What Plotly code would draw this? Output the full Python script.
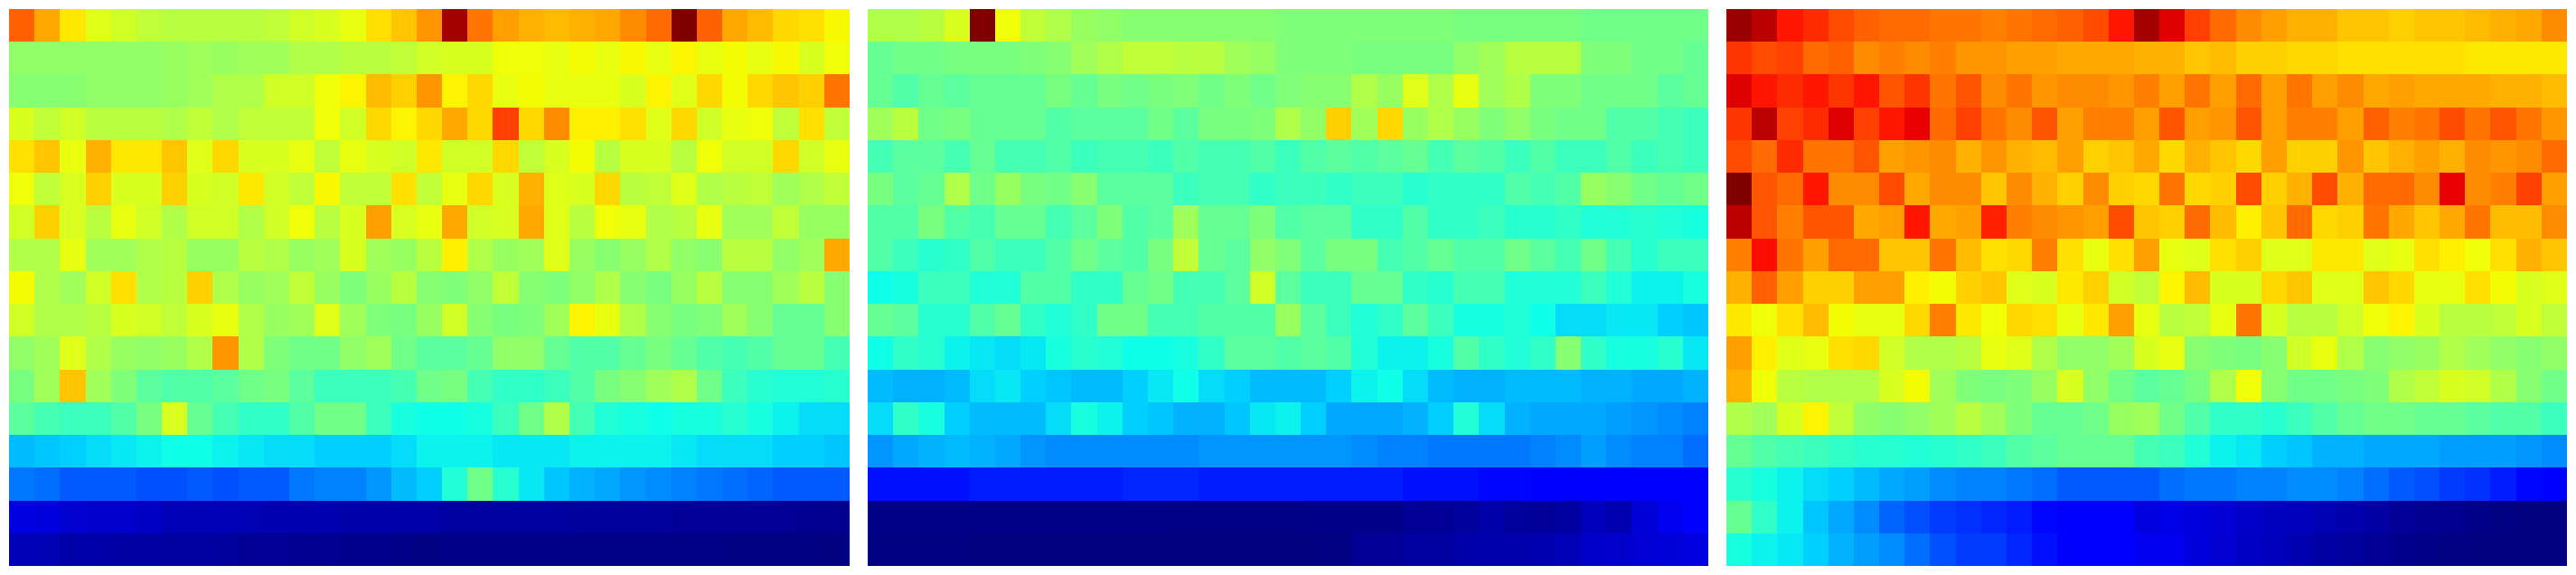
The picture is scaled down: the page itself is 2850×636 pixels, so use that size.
import plotly.graph_objects as go

# Cell values, top row first (33 columns, 17 rows)
panel_a = [
[80,73,66,59,57,56,55,55,55,55,56,57,58,60,67,70,75, 97,78,74,72,71,72,73,76,79,100,80,73,71,68,67,63],
[51,51,51,51,51,51,52,53,52,53,53,54,54,55,55,56,57, 58,58,61,61,60,62,60,63,60,64,60,62,60,63,58,61],
[50,50,50,51,51,51,52,53,54,54,57,57,61,64,71,69,75, 64,68,60,62,60,60,60,58,64,59,68,62,68,70,69,78],
[58,56,57,55,55,55,54,56,54,56,56,56,61,57,68,64,68, 73,68,83,68,76,65,65,67,59,68,57,60,61,56,67,56],
[67,70,60,72,66,66,70,59,68,58,58,60,56,60,58,57,66, 57,57,68,56,58,62,55,58,58,55,61,57,57,68,57,60],
[61,56,58,69,58,58,69,58,57,66,57,56,63,56,56,67,56, 60,68,58,72,59,58,68,55,56,59,54,55,56,53,54,56],
[57,69,58,55,60,57,54,57,57,54,57,61,55,58,74,58,60, 73,57,58,73,59,55,61,60,54,55,60,53,53,56,52,52],
[54,54,60,53,53,54,55,52,52,55,54,52,53,58,53,52,55, 65,54,52,53,59,52,50,52,54,51,50,55,55,51,53,73],
[62,54,53,57,67,54,55,69,54,52,53,56,52,49,52,55,50, 49,51,56,50,49,51,54,50,48,52,55,50,50,53,55,50],
[57,54,54,55,58,57,56,58,60,54,52,53,59,53,49,48,52, 57,50,48,49,53,64,60,54,50,48,49,53,50,46,46,50],
[51,53,59,54,52,51,52,54,75,54,49,47,47,51,53,47,45, 45,46,51,51,46,44,44,46,48,46,44,43,44,46,46,43],
[48,53,70,53,49,45,44,44,45,47,48,45,42,42,42,43,47, 48,43,41,41,42,44,48,50,53,54,47,42,40,39,39,40],
[45,43,42,42,44,48,58,46,43,41,41,44,47,47,42,38,37, 37,38,42,47,54,43,39,38,37,38,38,40,38,36,34,34],
[31,32,33,34,35,36,37,37,36,35,34,34,33,33,33,34,36, 36,36,35,35,35,36,36,36,36,35,34,34,34,33,33,32],
[24,23,21,21,21,20,20,21,20,21,21,24,25,25,27,31,33, 39,47,40,35,32,30,29,27,26,25,24,23,22,21,21,21],
[8.3,8,6.9,6.6,6.6,5.9,4.8,4.8,4.8,4.5,4.2,4.2,4.2,3.5,3.5,3.5,3.5, 2.8,2.8,2.8,2.6,2.6,2.4,2.4,2.4,2.4,2.1,2.1,1.9,1.7,1.7,1.4,1.2],
[4.8,4.5,3.5,3.5,3.1,3.1,2.8,2.8,2.4,1.7,1.7,1.4,1.4,1,1,0.7,0.3, 0.8,0.8,0.8,0.7,0.7,0.6,0.6,0.6,0.6,0.5,0.5,0.3,0.2,0.2,0.2,0.1],
]

panel_b = [
[54,54,55,58,100,61,56,54,52,51,50,50,50,50,50,50,49, 49,49,49,49,49,49,48,48,48,48,48,47,47,47,47,47],
[46,47,47,48,48,48,49,50,53,54,56,56,55,55,53,52,49, 49,49,48,48,48,48,51,53,55,55,55,49,49,47,47,46],
[46,44,46,45,46,46,46,48,46,48,47,48,49,47,49,47,49, 50,50,54,52,59,54,60,53,54,49,49,47,47,47,45,46],
[53,55,47,48,46,46,46,44,45,45,45,47,45,48,48,49,54, 51,69,53,68,52,54,52,49,51,48,47,47,44,44,43,42],
[43,45,45,43,46,43,43,44,42,43,43,42,44,43,43,44,42, 44,45,44,45,46,43,45,44,42,44,42,42,44,42,43,42],
[48,45,46,54,47,52,48,47,50,45,45,45,42,43,43,41,42, 42,41,42,42,40,41,41,41,44,43,44,52,50,47,46,47],
[44,44,48,44,43,46,46,43,45,49,44,45,53,46,46,49,44, 45,45,41,41,44,41,41,42,40,40,41,39,39,40,39,38],
[44,42,40,41,44,42,42,44,47,45,44,48,56,46,45,51,49, 45,48,48,43,44,46,44,44,47,45,43,47,43,40,42,42],
[37,38,42,42,39,39,44,44,41,41,46,47,43,43,45,57,45, 42,42,46,46,41,40,43,43,39,39,39,42,39,36,36,38],
[46,45,40,40,44,46,41,39,41,47,47,43,43,44,44,44,52, 45,42,39,41,45,42,38,38,39,37,34,34,35,35,33,32],
[37,41,40,36,35,34,35,38,40,39,37,37,38,41,45,45,44, 45,44,39,36,36,38,44,41,39,41,50,41,38,38,40,35],
[31,30,30,31,34,35,33,32,31,31,33,35,37,34,33,31,31, 31,33,36,37,34,31,30,30,31,31,31,30,30,29,29,30],
[34,41,38,33,31,31,31,34,38,36,33,32,30,30,32,35,36, 33,29,29,29,30,33,39,34,30,29,29,29,28,27,26,25],
[27,29,30,31,30,29,27,26,26,26,26,26,26,27,27,27,27, 27,27,26,25,25,24,24,24,24,25,26,28,26,25,25,23],
[14,14,14,14,15,15,15,15,15,15,16,16,16,15,15,15,15, 15,15,15,15,14,14,14,13,13,12,12,12,12,12,12,12],
[0.6,0.6,0.6,0.6,0.6,0.6,0.5,0.5,0.5,0.5,0.5,0.5,0.4,0.4,0.4,0.4,0.4, 0.8,0.8,0.8,0.8,1.7,2.1,2.4,3.5,2.4,2.1,2.8,5.2,4.2,7.6,9.7,11],
[0.2,0.2,0.2,0.2,0.1,0.1,0.1,0.1,0.1,0,0,0,0,0,0,0,0, 0,0.3,1.7,2.1,2.8,2.8,3.5,3.8,3.8,4.2,4.8,6.2,6.6,7.3,7.6,8.3],
]

panel_c = [
[98,95,87,85,82,80,79,79,78,78,77,78,79,80,82,87,97, 92,83,79,76,74,72,72,70,70,69,70,70,71,72,73,76],
[84,82,83,79,80,76,77,76,77,75,75,74,74,73,73,73,72, 72,70,71,69,69,68,68,67,67,67,67,67,66,66,66,66],
[92,87,85,87,84,87,81,84,78,81,76,78,75,76,76,75,77, 74,78,74,79,74,78,74,76,73,74,73,73,73,72,72,71],
[84,95,83,85,92,83,87,91,79,83,78,76,81,74,77,77,74, 81,74,75,81,74,77,77,74,80,77,78,82,78,81,78,75],
[82,79,85,78,78,81,74,75,76,72,75,72,71,74,69,70,73, 68,72,70,68,74,69,69,75,70,72,74,72,76,75,76,79],
[100,81,79,87,76,76,82,73,76,76,70,76,72,69,76,69,68, 78,68,69,82,69,72,82,72,79,79,76,91,76,77,83,74],
[95,81,77,81,81,73,74,87,73,74,86,77,76,75,74,82,70, 69,79,71,65,70,79,68,69,78,73,70,73,78,71,71,76],
[77,88,78,74,79,79,70,70,78,71,67,68,77,67,60,67,74, 60,59,67,69,59,59,66,66,59,60,67,65,61,67,72,70],
[72,80,74,69,69,74,74,65,62,69,70,59,58,66,69,57,56, 64,71,58,58,68,70,59,59,70,68,60,60,67,62,58,59],
[66,61,67,71,62,60,60,68,77,66,61,68,67,60,66,74,60, 55,56,60,78,58,55,55,57,61,64,58,55,55,56,58,56],
[74,65,59,60,67,68,57,54,54,55,60,59,54,51,51,53,58, 60,50,49,48,50,57,60,54,50,51,52,54,53,51,50,51],
[72,61,55,54,54,54,58,62,53,49,48,49,52,58,51,47,45, 46,48,54,61,50,47,47,48,49,54,56,58,57,54,50,47],
[54,53,58,64,56,51,50,51,53,55,53,49,46,46,47,52,53, 47,44,41,41,40,42,44,46,47,47,46,46,45,44,44,42],
[46,44,43,42,41,40,40,39,40,41,42,44,45,46,46,46,43, 42,39,36,35,33,32,30,30,29,29,29,28,28,28,27,26],
[40,38,36,34,33,31,29,28,26,25,25,24,23,21,21,21,21, 23,24,24,25,25,26,26,25,23,21,20,18,17,15,13,12],
[46,41,36,32,29,26,22,20,18,17,16,15,13,12,12,11,8.3, 9,8,7.3,6.2,5.5,5.2,4.5,3.8,3.1,2.1,1.4,1.4,0.7,0.3,0,0],
[38,36,35,33,30,28,26,23,20,18,18,16,14,12,12,11,10, 9.7,8,6.9,5.9,5.2,4.2,3.1,2.4,1.7,1,0.7,0.3,0,0,0,0],
]

# Colour ramp (rainbow, dark blue to dark red) on the 0-100 reading scale
ramp_values = [0,11,12.5,20,33,37,41,44,47,49,51,53,54,56,57,59,61,63,65,67,69,70.5,72,74,75.5,77,78.5,80,81.5,83,86,87.5,90.5,94.5,97.5,100]
ramp_colors = ["#000080","#0000FF","#0000FF","#0050FF","#00D0FF","#10FFE8","#30FFC8","#50FFA8","#70FF88","#80FF78",
               "#90FF68","#A0FF58","#B0FF48","#C0FF38","#D0FF28","#E0FF18","#F0FF08","#F8F800","#FFF000","#FFE000",
               "#FFD000","#FFC000","#FFB000","#FFA000","#FF9000","#FF8000","#FF7000","#FF6000","#FF5000","#FF4000",
               "#FF2000","#FF1000","#F00000","#C00000","#A00000","#800000"]
colorscale = [[v / 100, c] for v, c in zip(ramp_values, ramp_colors)]

W, H = 2850, 636
panel_left = [10, 960, 1910]
panel_width = 930
panel_top, panel_bottom = 10, 626

fig = go.Figure()
for i, z in enumerate([panel_a, panel_b, panel_c]):
    assert len(z) == 17 and all(len(r) == 33 for r in z), (i, [len(r) for r in z])
    suffix = "" if i == 0 else str(i + 1)
    fig.add_trace(go.Heatmap(z=z, zmin=0, zmax=100, colorscale=colorscale, showscale=False,
                             xaxis="x" + suffix, yaxis="y" + suffix))
    axis_x = dict(domain=[panel_left[i] / W, (panel_left[i] + panel_width) / W], visible=False,
                  range=[-0.5, 32.5], anchor="y" + suffix)
    axis_y = dict(domain=[1 - panel_bottom / H, 1 - panel_top / H], visible=False,
                  range=[16.5, -0.5], anchor="x" + suffix)
    fig.update_layout({"xaxis" + suffix: axis_x, "yaxis" + suffix: axis_y})

fig.update_layout(width=W, height=H, margin=dict(l=0, r=0, t=0, b=0),
                  paper_bgcolor="white", plot_bgcolor="white")
fig.write_html("out.html", post_script="document.body.style.margin='0';",
               config={"displayModeBar": False})
